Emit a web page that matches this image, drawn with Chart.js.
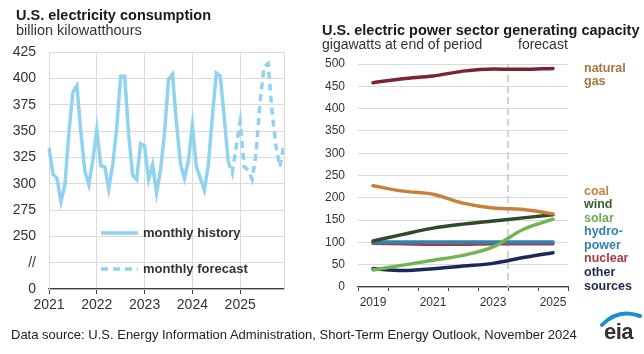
<!DOCTYPE html>
<html>
<head>
<meta charset="utf-8">
<script src="https://cdn.jsdelivr.net/npm/chart.js@4"></script>
<style>
  body { margin: 0; background: #fff; font-family: "Liberation Sans", Arial, sans-serif; color: #222; }
  #wrap { position: relative; width: 644px; height: 354px; overflow: hidden; }
  canvas { position: absolute; left: 0; top: 0; }
  .t { position: absolute; white-space: nowrap; line-height: 1; }
  .title { font-weight: bold; font-size: 14.5px; color: #1a1a1a; }
  .sub { font-size: 14.5px; color: #333; }
  .lbl { font-weight: bold; font-size: 12.5px; }
</style>
</head>
<body>
<div id="wrap">
  <canvas id="left" width="644" height="354"></canvas>
  <canvas id="right" width="644" height="354"></canvas>

  <div class="t title" style="left:16px;top:8px">U.S. electricity consumption</div>
  <div class="t sub" style="left:16px;top:23px">billion kilowatthours</div>
  <div class="t title" style="left:322px;top:23px">U.S. electric power sector generating capacity</div>
  <div class="t sub" style="left:322px;top:37px;font-size:14px">gigawatts at end of period</div>
  <div class="t sub" style="left:518px;top:37px;font-size:14px">forecast</div>

  <div class="t lbl" style="left:584px;top:62px;color:#a9763f">natural</div>
  <div class="t lbl" style="left:584px;top:75px;color:#a9763f">gas</div>
  <div class="t lbl" style="left:584px;top:185px;color:#c9803f">coal</div>
  <div class="t lbl" style="left:584px;top:198px;color:#3d5f2f">wind</div>
  <div class="t lbl" style="left:584px;top:212px;color:#6faa4c">solar</div>
  <div class="t lbl" style="left:584px;top:225px;color:#2f83b3">hydro-</div>
  <div class="t lbl" style="left:584px;top:239px;color:#2f83b3">power</div>
  <div class="t lbl" style="left:584px;top:252px;color:#a83a4b">nuclear</div>
  <div class="t lbl" style="left:584px;top:266px;color:#1e2750">other</div>
  <div class="t lbl" style="left:584px;top:280px;color:#1e2750">sources</div>

  <div class="t" style="left:11px;top:328px;font-size:13px;color:#222">Data source: U.S. Energy Information Administration, Short-Term Energy Outlook, November 2024</div>
  <svg style="position:absolute;left:596px;top:306px" width="48" height="44">
    <path d="M6 19 Q22 2 44 10" stroke="#1b8fd2" stroke-width="4" fill="none" stroke-linecap="round"/>
  </svg>
  <div class="t" style="left:604px;top:321px;font-size:22px;font-weight:bold;color:#333;letter-spacing:-0.5px">eia</div>
</div>

<script>
// monthly consumption, billion kWh
const years = ['2021', '2022', '2023', '2024', '2025'];
const historyValues = [
  334, 309, 305, 283, 299, 349, 387, 393, 349, 312, 299, 322,
  351, 317, 316, 295, 318, 353, 402, 402, 347, 308, 304, 338,
  336, 304, 318, 291, 313, 348, 399, 404, 358, 319, 305, 322,
  355, 316, 305, 294, 318, 363, 405, 402, 363, 321
];
// starts at Oct 2024 so the dashes join the history line
const forecastValues = [321, 310, 335, 359, 316, 313, 304, 329, 379, 411, 414, 369, 335, 316, 337];
const leftTickLabels = ['0', '//', '250', '275', '300', '325', '350', '375', '400', '425'];

// generating capacity, GW at end of period
const capYears = ['2019', '2020', '2021', '2022', '2023', '2024', '2025'];
const naturalGas = [458, 467, 473, 484, 489, 488, 490];
const coal = [227, 215, 208, 188, 177, 174, 164];
const wind = [103, 118, 132, 141, 148, 155, 162];
const solar = [38, 49, 60, 71, 90, 129, 152];
const hydro = [101, 101, 101, 101, 101, 101, 101];
const nuclear = [98, 97, 96, 96, 97, 97, 97];
const other = [41, 37, 41, 47, 53, 66, 77];

const lightBlue = '#8fd3f0';
const gridColor = '#dadada';
const axisColor = '#404040';
const FONT = '"Liberation Sans", Arial, sans-serif';

Chart.defaults.font.family = FONT;
Chart.defaults.color = '#333';

const monthLabels = [];
years.forEach(y => {
  for (let m = 1; m <= 12; m++) monthLabels.push(y + '-' + m);
});
const histData = monthLabels.map((_, i) => i < historyValues.length ? historyValues[i] : null);
const fcStart = historyValues.length - 1;
const fcData = monthLabels.map((_, i) => i >= fcStart ? forecastValues[i - fcStart] : null);

// right border + in-chart legend for the consumption chart
const leftExtras = {
  id: 'leftExtras',
  afterDraw(chart) {
    const ctx = chart.ctx;
    const a = chart.chartArea;
    ctx.save();
    ctx.strokeStyle = gridColor;
    ctx.lineWidth = 1;
    ctx.beginPath();
    ctx.moveTo(a.right + 0.5, a.top);
    ctx.lineTo(a.right + 0.5, a.bottom);
    ctx.stroke();

    const items = [
      { text: 'monthly history', dash: [], y: 233 },
      { text: 'monthly forecast', dash: [7, 5], y: 269 }
    ];
    items.forEach(it => {
      ctx.strokeStyle = lightBlue;
      ctx.lineWidth = 3.5;
      ctx.setLineDash(it.dash);
      ctx.beginPath();
      ctx.moveTo(101, it.y);
      ctx.lineTo(138, it.y);
      ctx.stroke();
      ctx.setLineDash([]);
      ctx.fillStyle = '#333';
      ctx.font = 'bold 13px ' + FONT;
      ctx.textBaseline = 'middle';
      ctx.fillText(it.text, 143, it.y);
    });
    ctx.restore();
  }
};

new Chart(document.getElementById('left'), {
  type: 'line',
  data: {
    labels: monthLabels,
    datasets: [
      { label: 'monthly history', data: histData, borderColor: lightBlue, borderWidth: 3.5, pointRadius: 0, tension: 0 },
      { label: 'monthly forecast', data: fcData, borderColor: lightBlue, borderWidth: 3.5, borderDash: [7, 5], pointRadius: 0, tension: 0 }
    ]
  },
  options: {
    responsive: false,
    animation: false,
    layout: { padding: { left: 0, top: 52, right: 360, bottom: 0 } },
    plugins: { legend: { display: false }, tooltip: { enabled: false } },
    scales: {
      x: {
        offset: false,
        grid: { color: gridColor, tickLength: 5, tickColor: axisColor },
        border: { color: axisColor, width: 1.2 },
        ticks: {
          autoSkip: false, maxRotation: 0, padding: 3, font: { size: 14 },
          callback: (v, i) => i % 12 === 0 ? years[i / 12] : null
        },
        afterFit: s => { s.height = 65; }
      },
      y: {
        min: 200, max: 425,
        grid: { color: gridColor, drawTicks: false },
        border: { color: gridColor },
        ticks: { stepSize: 25, padding: 13, font: { size: 14 }, callback: (v, i) => leftTickLabels[i] },
        afterFit: s => { s.width = 49; }
      }
    }
  },
  plugins: [leftExtras]
});

// dashed divider between history and forecast
const forecastDivider = {
  id: 'forecastDivider',
  beforeDatasetsDraw(chart) {
    const ctx = chart.ctx;
    const a = chart.chartArea;
    const xs = chart.scales.x;
    const x = (xs.getPixelForValue(4) + xs.getPixelForValue(5)) / 2;
    ctx.save();
    ctx.strokeStyle = '#c8c8c8';
    ctx.lineWidth = 1.5;
    ctx.setLineDash([7, 4]);
    ctx.beginPath();
    ctx.moveTo(x, a.top);
    ctx.lineTo(x, a.bottom);
    ctx.stroke();
    ctx.restore();
  }
};

function capLine(data, color) {
  return { data: data, borderColor: color, borderWidth: 3.5, pointRadius: 0, cubicInterpolationMode: 'monotone', borderCapStyle: 'round' };
}

new Chart(document.getElementById('right'), {
  type: 'line',
  data: {
    labels: capYears,
    datasets: [
      capLine(naturalGas, '#7b2431'),
      capLine(coal, '#c8803c'),
      capLine(wind, '#2f4a2b'),
      capLine(solar, '#72b452'),
      capLine(hydro, '#2c86b2'),
      capLine(nuclear, '#a63a4a'),
      capLine(other, '#1c2858')
    ]
  },
  options: {
    responsive: false,
    animation: false,
    layout: { padding: { left: 320, top: 64, right: 76, bottom: 0 } },
    plugins: { legend: { display: false }, tooltip: { enabled: false } },
    scales: {
      x: {
        offset: true,
        grid: { offset: true, drawOnChartArea: false, tickLength: 4, tickColor: axisColor },
        border: { color: axisColor, width: 1.2 },
        ticks: {
          autoSkip: false, maxRotation: 0, padding: 4, font: { size: 12 },
          callback: (v, i) => i % 2 === 0 ? capYears[i] : ''
        },
        afterFit: s => { s.height = 67; }
      },
      y: {
        min: 0, max: 500,
        grid: { color: gridColor, drawTicks: false },
        border: { display: false },
        ticks: { stepSize: 50, padding: 13, font: { size: 12 } },
        afterFit: s => { s.width = 38; }
      }
    }
  },
  plugins: [forecastDivider]
});
</script>
</body>
</html>
